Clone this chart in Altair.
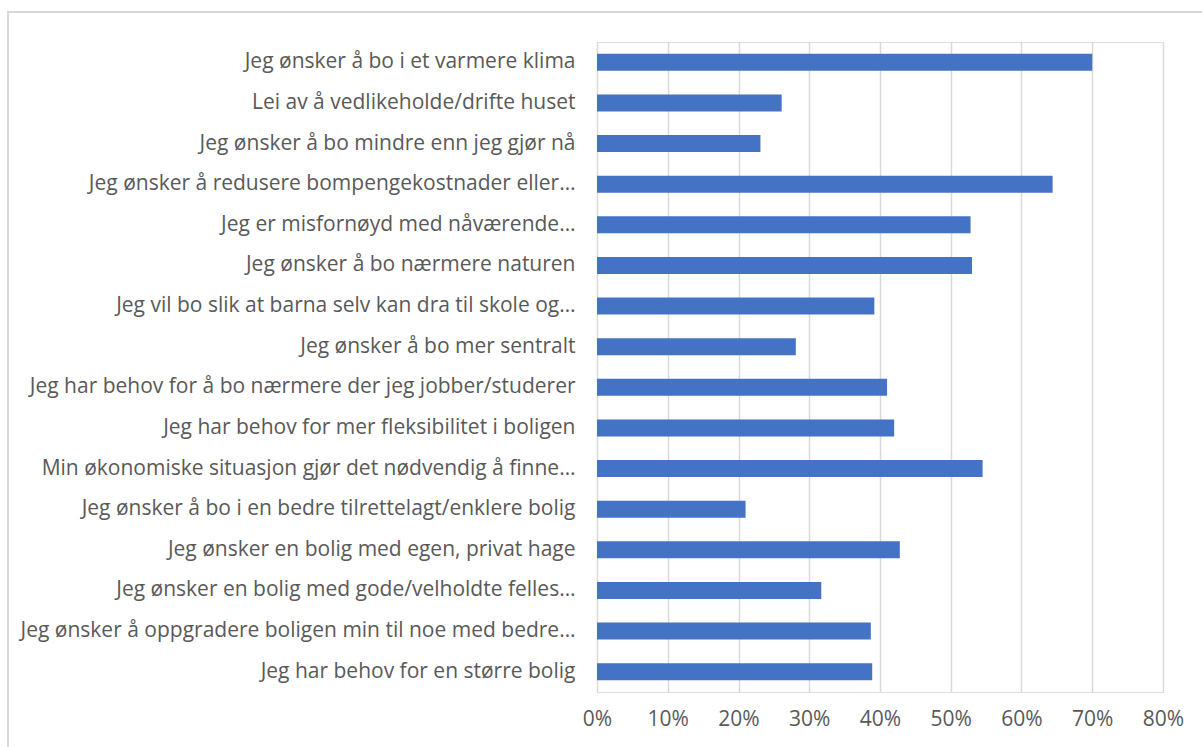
import altair as alt
import pandas as pd

categories = [
    "Jeg ønsker å bo i et varmere klima",
    "Lei av å vedlikeholde/drifte huset",
    "Jeg ønsker å bo mindre enn jeg gjør nå",
    "Jeg ønsker å redusere bompengekostnader eller…",
    "Jeg er misfornøyd med nåværende…",
    "Jeg ønsker å bo nærmere naturen",
    "Jeg vil bo slik at barna selv kan dra til skole og…",
    "Jeg ønsker å bo mer sentralt",
    "Jeg har behov for å bo nærmere der jeg jobber/studerer",
    "Jeg har behov for mer fleksibilitet i boligen",
    "Min økonomiske situasjon gjør det nødvendig å finne…",
    "Jeg ønsker å bo i en bedre tilrettelagt/enklere bolig",
    "Jeg ønsker en bolig med egen, privat hage",
    "Jeg ønsker en bolig med gode/velholdte felles…",
    "Jeg ønsker å oppgradere boligen min til noe med bedre…",
    "Jeg har behov for en større bolig",
]
values = [0.700, 0.261, 0.231, 0.644, 0.528, 0.530, 0.392, 0.281,
          0.410, 0.420, 0.545, 0.210, 0.428, 0.317, 0.387, 0.389]
x_ticks = [0, 0.1, 0.2, 0.3, 0.4, 0.5, 0.6, 0.7, 0.8]

df = pd.DataFrame({"cat": categories, "val": values})

FONT = "Open Sans"
TXT = "#595959"

bars = alt.Chart(df).mark_bar(color="#4472C4").encode(
    y=alt.Y("cat:N", sort=categories, title=None,
            scale=alt.Scale(paddingInner=0.58, paddingOuter=0.29),
            axis=alt.Axis(ticks=False, domain=False, labelFontSize=21,
                          labelColor=TXT, labelFont=FONT, labelPadding=22,
                          labelLimit=700)),
    x=alt.X("val:Q", title=None,
            scale=alt.Scale(domain=[0, 0.8], nice=False),
            axis=alt.Axis(values=x_ticks, format=".0%", ticks=False, domain=False,
                          grid=True, gridColor="#d9d9d9", gridWidth=1.5,
                          labelFontSize=21, labelColor=TXT, labelFont=FONT,
                          labelPadding=16, labelFlush=False)),
)

border = alt.Chart(df).mark_rect(fill=None, stroke="#d9d9d9", strokeWidth=1.5).encode(
    x=alt.value(-589), x2=alt.value(700), y=alt.value(-30), y2=alt.value(800)
)

chart = alt.layer(border, bars).properties(
    width=566, height=650,
    autosize=alt.AutoSizeParams(type="none"),
    padding={"left": 597, "top": 42, "right": 39, "bottom": 55},
).configure_view(stroke=None).configure(background="white")

chart.save("out.html", embed_options={"renderer": "svg", "actions": False})
